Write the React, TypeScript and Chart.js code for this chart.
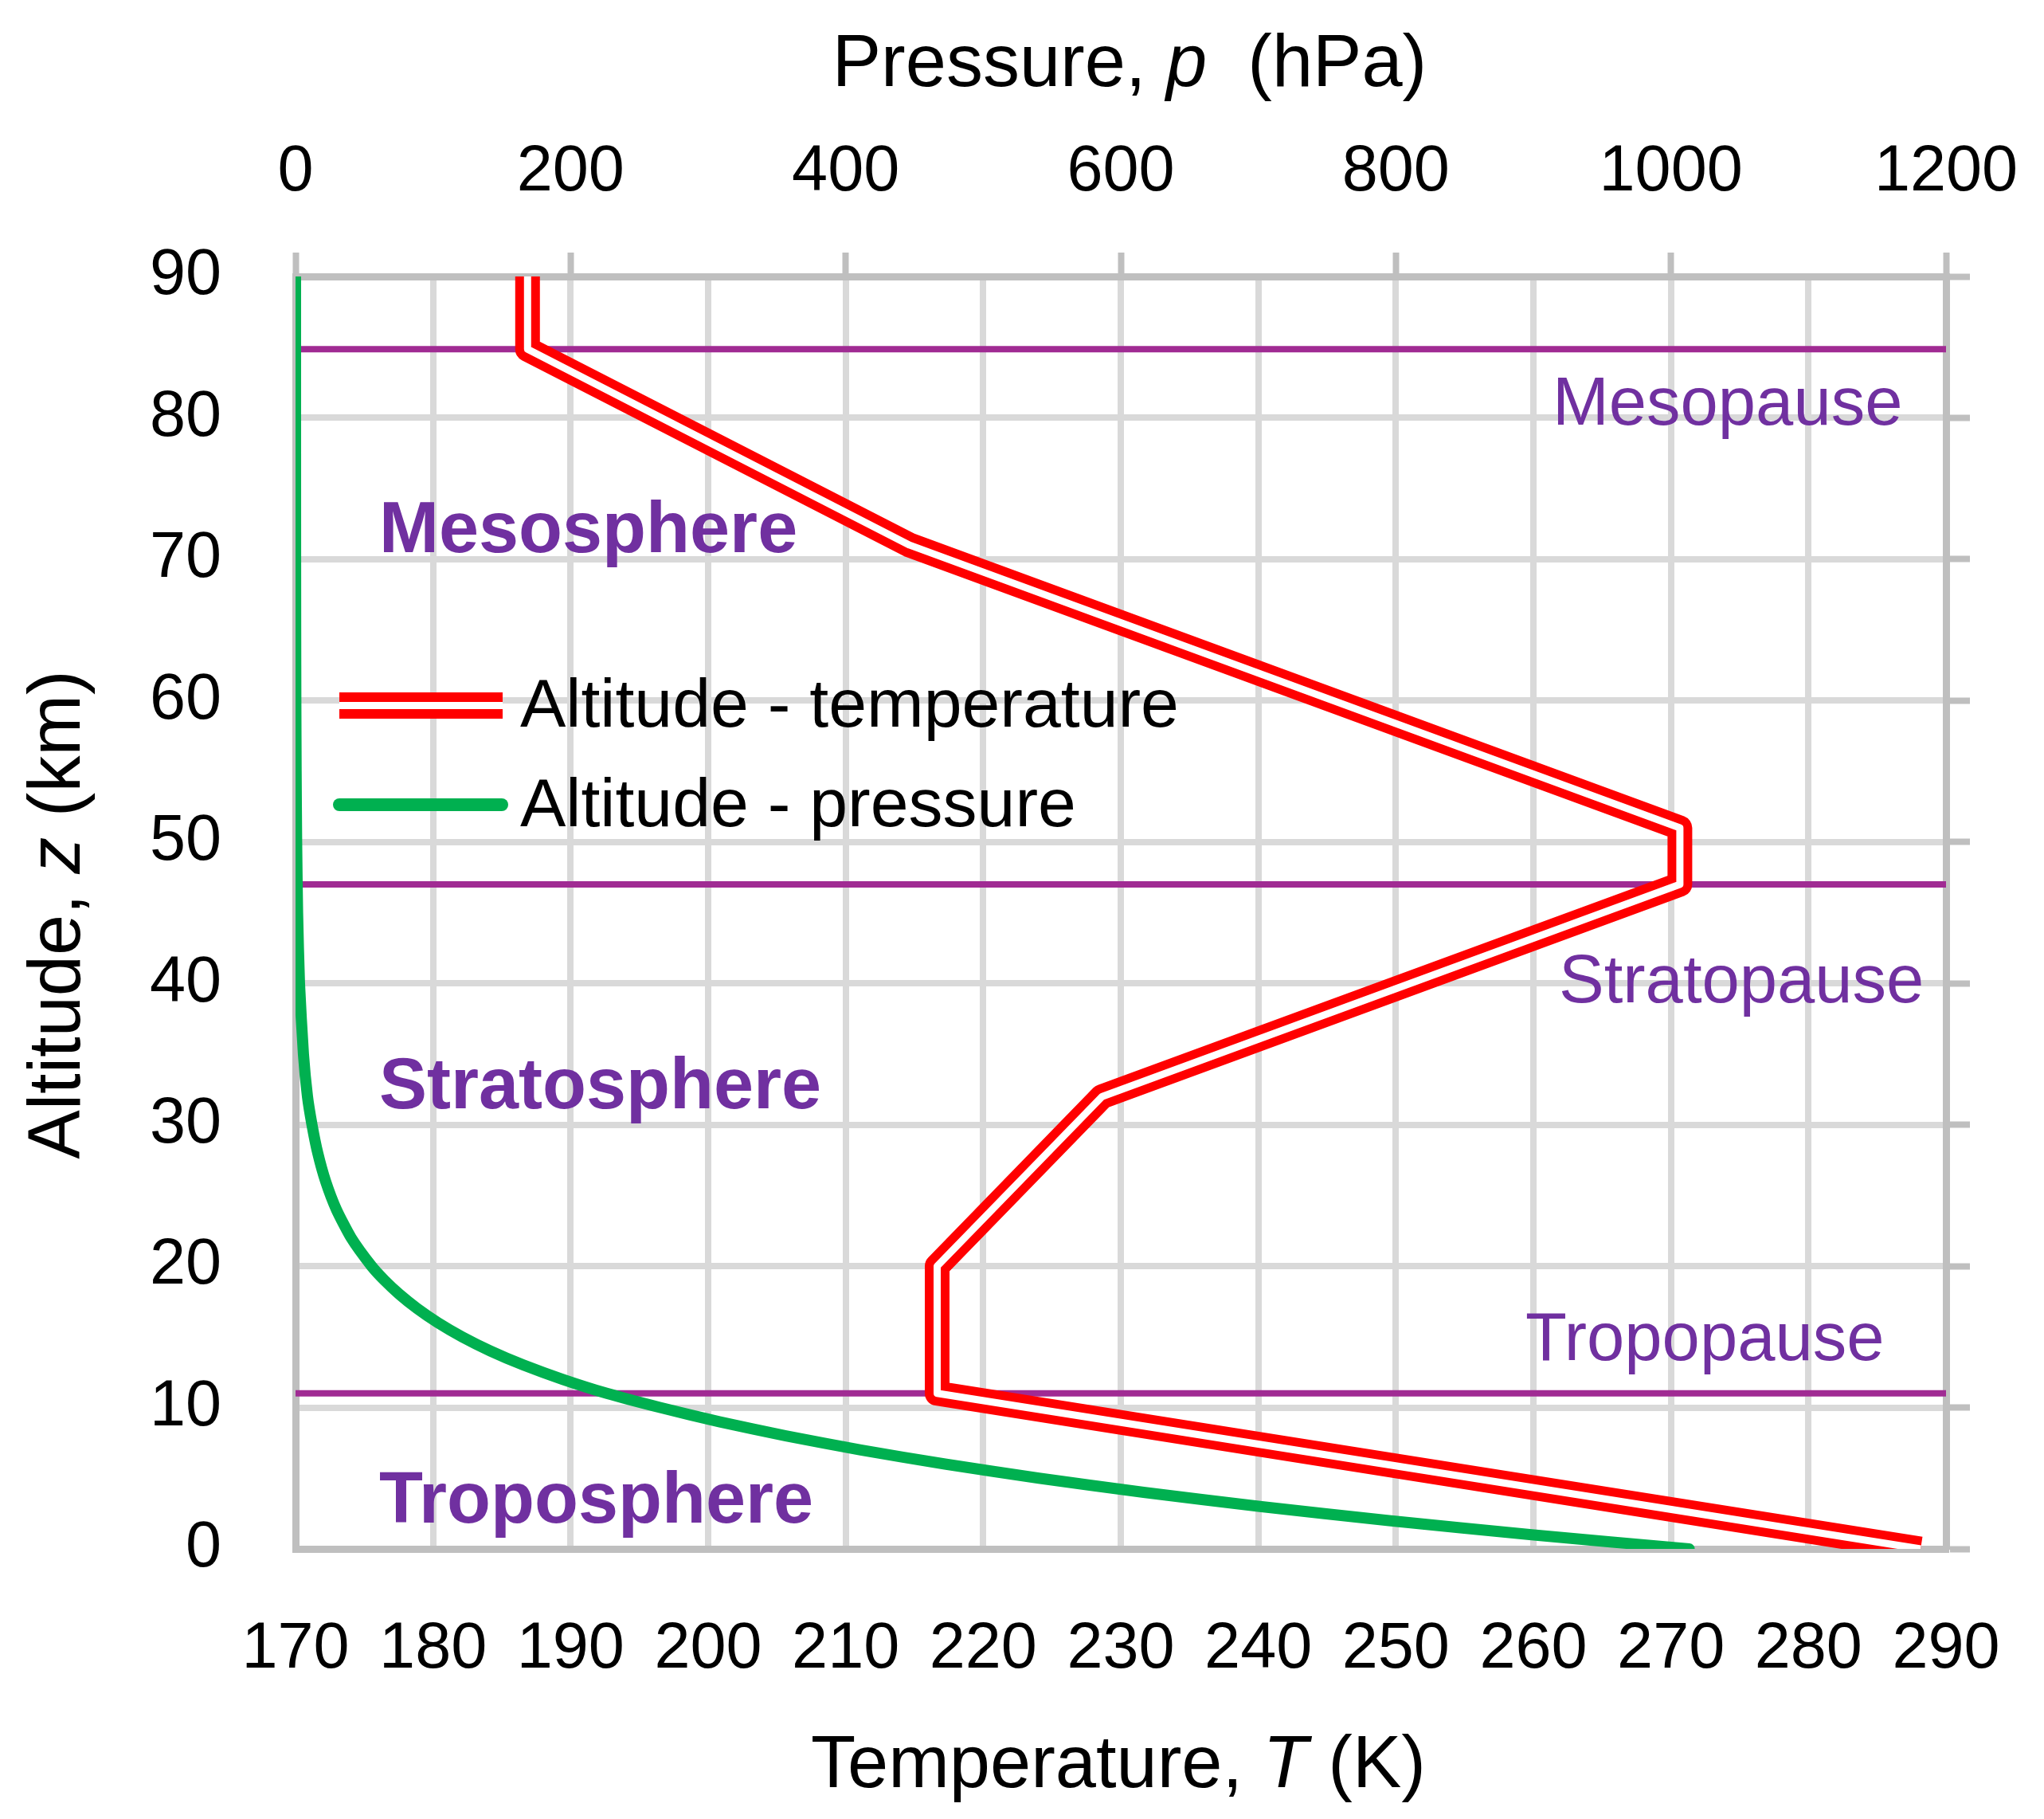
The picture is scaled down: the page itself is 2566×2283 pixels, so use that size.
import React, { useEffect, useRef } from "react";
import { Chart, registerables } from "chart.js";

Chart.register(...registerables);

// Temperature profile (US Standard Atmosphere), altitude in km, temperature in K
const tempAltitudes = [0, 11, 20, 32, 47, 51, 71, 84.852, 90];
const temperatures = [288.15, 216.65, 216.65, 228.65, 270.65, 270.65, 214.65, 186.87, 186.87];

// Pressure profile, altitude in km, pressure in hPa
const pressAltitudes = [0, 1, 2, 3, 4, 5, 6, 7, 8, 9, 10, 11, 12, 13, 14, 15, 16, 17, 18, 19, 20, 22, 24, 26, 28, 30, 32, 35, 40, 45, 50, 55, 60, 65, 70, 75, 80, 85, 90];
const pressures = [1013.25, 898.75, 795.01, 701.21, 616.6, 540.48, 472.18, 411.05, 356.51, 308.0, 265.0, 226.32, 193.99, 165.79, 141.7, 121.11, 103.52, 88.5, 75.65, 64.67, 55.29, 40.47, 29.72, 21.88, 16.16, 11.97, 8.68, 5.75, 2.87, 1.49, 0.8, 0.43, 0.22, 0.11, 0.052, 0.024, 0.011, 0.0046, 0.0018];

// Boundary layers (km)
const pauseAltitudes = [11, 47, 84.852];
const pauseNames = ["Tropopause", "Stratopause", "Mesopause"];
const sphereNames = ["Troposphere", "Stratosphere", "Mesosphere"];

const seriesNames = ["Altitude - temperature", "Altitude - pressure"];

const tempTicks = { min: 170, max: 290, step: 10 };
const pressTicks = { min: 0, max: 1200, step: 200 };
const altTicks = { min: 0, max: 90, step: 10 };

const FONT = "'Liberation Sans', Arial, sans-serif";
const RED = "#FF0000";
const GREEN = "#00B050";
const PURPLE_LINE = "#A02B93";
const PURPLE_TEXT = "#7030A0";

type Seg = { t: string; i?: boolean };

function drawSegs(ctx: CanvasRenderingContext2D, segs: Seg[], size: number, cx: number, y: number) {
  let total = 0;
  const widths = segs.map((s) => {
    ctx.font = `${s.i ? "italic " : ""}${size}px ${FONT}`;
    const w = ctx.measureText(s.t).width;
    total += w;
    return w;
  });
  let x = cx - total / 2;
  ctx.textAlign = "left";
  ctx.textBaseline = "alphabetic";
  segs.forEach((s, k) => {
    ctx.font = `${s.i ? "italic " : ""}${size}px ${FONT}`;
    ctx.fillText(s.t, x, y);
    x += widths[k];
  });
}

const overlayPlugin = {
  id: "overlay",
  afterDraw(chart: any) {
    const ctx: CanvasRenderingContext2D = chart.ctx;
    ctx.save();
    ctx.fillStyle = "#000";
    // axis titles
    drawSegs(ctx, [{ t: "Pressure, " }, { t: "p", i: true }, { t: "  (hPa)" }], 92, 1410, 100);
    drawSegs(ctx, [{ t: "Temperature, " }, { t: "T", i: true }, { t: " (K)" }], 92, 1396, 2235);
    ctx.save();
    ctx.translate(92, 1140);
    ctx.rotate(-Math.PI / 2);
    drawSegs(ctx, [{ t: "Altitude, " }, { t: "z", i: true }, { t: " (km)" }], 92, 0, 0);
    ctx.restore();

    // region labels
    ctx.fillStyle = PURPLE_TEXT;
    ctx.textAlign = "left";
    ctx.textBaseline = "alphabetic";
    ctx.font = `bold 90px ${FONT}`;
    const sphereBaselines = [1903, 1383, 685];
    sphereNames.forEach((n, k) => ctx.fillText(n, 468, sphereBaselines[k]));
    ctx.font = `85px ${FONT}`;
    const pausePos = [
      [1907, 1699],
      [1949, 1250],
      [1941, 525],
    ];
    pauseNames.forEach((n, k) => ctx.fillText(n, pausePos[k][0], pausePos[k][1]));

    // legend
    ctx.lineCap = "butt";
    ctx.strokeStyle = RED;
    ctx.lineWidth = 33;
    ctx.beginPath();
    ctx.moveTo(418, 877.5);
    ctx.lineTo(623, 877.5);
    ctx.stroke();
    ctx.strokeStyle = "#FFFFFF";
    ctx.lineWidth = 9;
    ctx.beginPath();
    ctx.moveTo(418, 877.5);
    ctx.lineTo(623, 877.5);
    ctx.stroke();
    ctx.strokeStyle = GREEN;
    ctx.lineWidth = 16;
    ctx.lineCap = "round";
    ctx.beginPath();
    ctx.moveTo(418, 1002);
    ctx.lineTo(622, 1002);
    ctx.stroke();
    ctx.fillStyle = "#000";
    ctx.font = `86px ${FONT}`;
    ctx.fillText(seriesNames[0], 645, 904);
    ctx.fillText(seriesNames[1], 645, 1029);
    ctx.restore();
  },
};

export default function App() {
  const ref = useRef<HTMLCanvasElement | null>(null);

  useEffect(() => {
    if (!ref.current) return;
    const tempData = tempAltitudes.map((z, i) => ({ x: temperatures[i], y: z }));
    const pressData = pressAltitudes.map((z, i) => ({ x: pressures[i], y: z }));
    const pauseSets = pauseAltitudes.map((z) => ({
      label: "pause",
      data: [
        { x: tempTicks.min, y: z },
        { x: tempTicks.max, y: z },
      ],
      xAxisID: "x",
      yAxisID: "y",
      borderColor: PURPLE_LINE,
      borderWidth: 8,
      pointRadius: 0,
      showLine: true,
      order: 10,
    }));

    const tickFont = { family: FONT, size: 81 };
    const plain = (v: any) => String(v);

    const chart = new Chart(ref.current, {
      type: "scatter",
      data: {
        datasets: [
          ...pauseSets,
          {
            label: seriesNames[0],
            data: tempData,
            xAxisID: "x",
            yAxisID: "y",
            borderColor: RED,
            borderWidth: 31,
            borderJoinStyle: "round",
            borderCapStyle: "butt",
            pointRadius: 0,
            showLine: true,
            order: 3,
          },
          {
            label: "inner",
            data: tempData,
            xAxisID: "x",
            yAxisID: "y",
            borderColor: "#FFFFFF",
            borderWidth: 9,
            borderJoinStyle: "round",
            borderCapStyle: "butt",
            pointRadius: 0,
            showLine: true,
            order: 2,
          },
          {
            label: seriesNames[1],
            data: pressData,
            xAxisID: "x2",
            yAxisID: "y",
            borderColor: GREEN,
            borderWidth: 14,
            borderJoinStyle: "round",
            borderCapStyle: "round",
            tension: 0.2,
            pointRadius: 0,
            showLine: true,
            order: 1,
          },
        ] as any,
      },
      options: {
        responsive: false,
        animation: false,
        devicePixelRatio: 1,
        layout: { padding: 0, autoPadding: false },
        plugins: { legend: { display: false }, tooltip: { enabled: false } },
        scales: {
          x: {
            type: "linear",
            position: "bottom",
            min: tempTicks.min,
            max: tempTicks.max,
            ticks: { stepSize: tempTicks.step, font: tickFont, color: "#000", padding: 78, maxRotation: 0, autoSkip: false, callback: plain },
            grid: { color: "#D9D9D9", lineWidth: 8, drawTicks: false },
            border: { color: "#BFBFBF", width: 9 },
            afterFit: (s: any) => {
              s.height = 331;
              s.paddingLeft = 0;
              s.paddingRight = 0;
            },
          },
          x2: {
            type: "linear",
            position: "top",
            min: pressTicks.min,
            max: pressTicks.max,
            ticks: { stepSize: pressTicks.step, font: tickFont, color: "#000", padding: 52, maxRotation: 0, autoSkip: false, callback: plain },
            grid: { drawOnChartArea: false, drawTicks: true, tickLength: 30, tickColor: "#BFBFBF", tickWidth: 8 },
            border: { color: "#BFBFBF", width: 9 },
            afterFit: (s: any) => {
              s.height = 339;
              s.paddingLeft = 0;
              s.paddingRight = 0;
            },
          },
          y: {
            type: "linear",
            position: "left",
            min: altTicks.min,
            max: altTicks.max,
            ticks: { stepSize: altTicks.step, font: tickFont, color: "#000", padding: 93, callback: plain },
            grid: { color: "#D9D9D9", lineWidth: 8, drawTicks: false },
            border: { color: "#BFBFBF", width: 9 },
            afterFit: (s: any) => {
              s.width = 363;
              s.paddingTop = 0;
              s.paddingBottom = 0;
            },
          },
          y2: {
            type: "linear",
            position: "right",
            min: altTicks.min,
            max: altTicks.max,
            ticks: { stepSize: altTicks.step, display: false },
            grid: { drawOnChartArea: false, drawTicks: true, tickLength: 30, tickColor: "#BFBFBF", tickWidth: 8 },
            border: { color: "#BFBFBF", width: 9 },
            afterFit: (s: any) => {
              s.width = 115;
              s.paddingTop = 0;
              s.paddingBottom = 0;
            },
          },
        },
      } as any,
      plugins: [overlayPlugin],
    });
    return () => chart.destroy();
  }, []);

  return (
    <div style={{ background: "#fff" }}>
      <canvas ref={ref} width={2550} height={2267} style={{ display: "block", width: 2550, height: 2267 }} />
    </div>
  );
}
